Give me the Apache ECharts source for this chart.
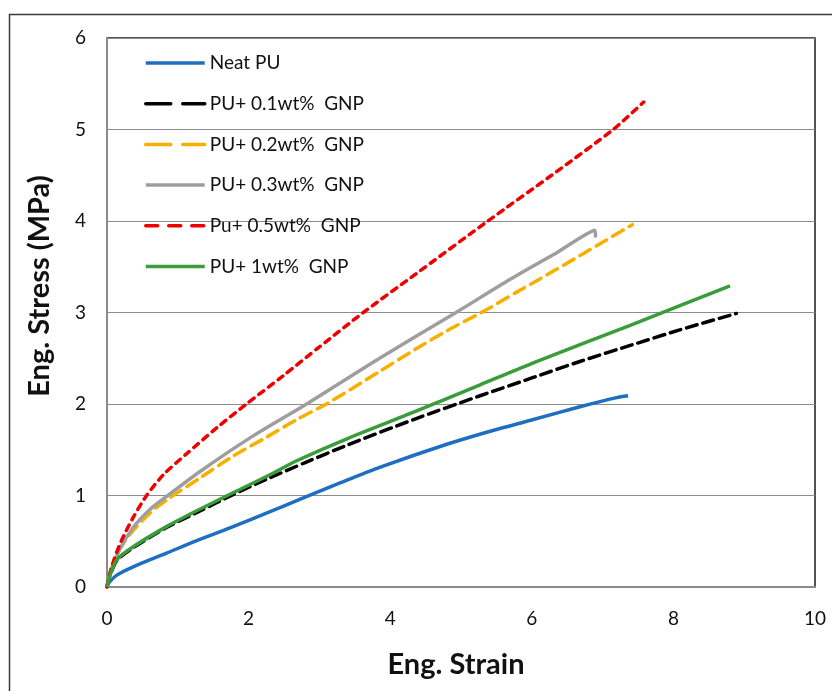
<!DOCTYPE html>
<html>
<head>
<meta charset="utf-8">
<script src="https://cdn.jsdelivr.net/npm/echarts@6/dist/echarts.min.js"></script>
<style>
  html, body { margin: 0; padding: 0; background: #fff; }
  #chart { width: 832px; height: 691px; }
</style>
</head>
<body>
<div id="chart"></div>
<script>
// Engineering stress–strain curves of PU / GNP composites
const seriesNames = ['Neat PU', 'PU+ 0.1wt%  GNP', 'PU+ 0.2wt%  GNP', 'PU+ 0.3wt%  GNP', 'Pu+ 0.5wt%  GNP', 'PU+ 1wt%  GNP'];

// [strain, stress (MPa)]
const neatPU = [[0,0],[0.02,0.04],[0.14,0.13],[0.37,0.22],[0.84,0.37],[1.31,0.52],[1.78,0.66],[2.26,0.81],[2.73,0.96],[3.3,1.14],[3.86,1.31],[4.8,1.56],[5.4,1.7],[5.97,1.82],[6.68,1.97],[7.2,2.07],[7.36,2.09]];
const gnp01 = [[0,0],[0.03,0.1],[0.14,0.29],[0.37,0.43],[0.84,0.65],[1.31,0.83],[1.78,1.01],[2.26,1.18],[2.8,1.36],[3.39,1.55],[4.33,1.83],[5.27,2.09],[6.02,2.29],[6.7,2.47],[7.39,2.64],[8.09,2.81],[8.89,2.99]];
const gnp02 = [[0,0],[0.04,0.15],[0.15,0.38],[0.35,0.6],[0.61,0.81],[0.84,0.95],[1.31,1.19],[1.78,1.43],[2.26,1.64],[2.68,1.83],[3.1,2.0],[3.86,2.36],[4.36,2.6],[4.8,2.8],[5.36,3.03],[5.78,3.22],[6.12,3.37],[6.72,3.64],[7.42,3.96]];
const gnp03 = [[0,0],[0.05,0.16],[0.18,0.41],[0.37,0.65],[0.61,0.85],[0.86,1.0],[1.31,1.26],[2.02,1.63],[2.82,2.0],[3.85,2.5],[4.93,3.0],[5.69,3.36],[6.3,3.63],[6.89,3.9],[6.9,3.82]];
const gnp05 = [[0,0],[0.03,0.12],[0.1,0.3],[0.2,0.5],[0.37,0.76],[0.56,1.0],[0.8,1.23],[1.13,1.46],[1.55,1.74],[1.97,2.0],[2.49,2.31],[3.01,2.63],[3.62,3.0],[4.36,3.42],[5.38,4.0],[6.28,4.5],[7.15,5.0],[7.58,5.3]];
const gnp1 = [[0,0],[0.03,0.1],[0.14,0.3],[0.37,0.44],[0.84,0.66],[1.31,0.85],[1.78,1.03],[2.26,1.21],[2.68,1.38],[3.39,1.62],[4.33,1.91],[5.27,2.21],[6.12,2.48],[7.39,2.86],[8.8,3.29]];

const xTicks = [0, 2, 4, 6, 8, 10];
const yTicks = [0, 1, 2, 3, 4, 5, 6];

const colors = ['#1F6FC1', '#000000', '#F7B000', '#9E9E9E', '#EE0000', '#3A9C3A'];
const dashes = ['solid', [11, 6], [12, 7], 'solid', [6, 6], 'solid'];
const legendDashes = ['solid', [25, 12], [25, 12], 'solid', [12, 11], 'solid'];
const allData = [neatPU, gnp01, gnp02, gnp03, gnp05, gnp1];

const font = 'Lato, "Open Sans", "Liberation Sans", sans-serif';

const chart = echarts.init(document.getElementById('chart'), null, { renderer: 'canvas' });

chart.setOption({
  animation: false,
  backgroundColor: '#fff',
  grid: {
    left: 107, right: 17, top: 38, bottom: 104,
    show: true, borderColor: '#1a1a1a', borderWidth: 1.5, backgroundColor: 'transparent'
  },
  xAxis: {
    type: 'value', min: xTicks[0], max: xTicks[xTicks.length - 1], interval: 2,
    axisLine: { show: true, onZero: false, lineStyle: { color: '#8a8a8a', width: 2 } },
    axisTick: { show: false },
    splitLine: { show: false },
    axisLabel: { margin: 22, fontSize: 19, color: '#111', fontFamily: font }
  },
  yAxis: {
    type: 'value', min: yTicks[0], max: yTicks[yTicks.length - 1], interval: 1,
    axisLine: { show: true, lineStyle: { color: '#8a8a8a', width: 2 } },
    axisTick: { show: false },
    splitLine: { show: true, lineStyle: { color: '#8c8c8c', width: 1.2 } },
    axisLabel: { margin: 21, fontSize: 19, color: '#111', fontFamily: font }
  },
  legend: {
    orient: 'vertical', left: 139, top: 48,
    itemWidth: 59, itemHeight: 20, itemGap: 20.7,
    textStyle: { fontSize: 19, color: '#111', fontFamily: font, lineHeight: 20 },
    data: seriesNames.map((n, i) => ({
      name: n,
      itemStyle: { color: 'rgba(0,0,0,0)', borderWidth: 0, opacity: 0 },
      lineStyle: { type: legendDashes[i], width: 3.5, color: colors[i] }
    }))
  },
  graphic: [
    { type: 'rect', shape: { x: 9.5, y: 14.5, width: 900, height: 900 },
      style: { fill: 'transparent', stroke: '#3a3a3a', lineWidth: 1.5 }, silent: true, z: -10 },
    { type: 'text', x: 40, y: 286, rotation: Math.PI / 2,
      style: { text: 'Eng. Stress (MPa)', font: 'bold 29px ' + font, fill: '#111',
               align: 'center', verticalAlign: 'middle' } },
    { type: 'text', x: 456, y: 665,
      style: { text: 'Eng. Strain', font: 'bold 29px ' + font, fill: '#111',
               align: 'center', verticalAlign: 'middle' } }
  ],
  series: allData.map((d, i) => ({
    name: seriesNames[i],
    type: 'line',
    data: d,
    symbol: 'none',
    smooth: 0.25,
    lineStyle: { color: colors[i], width: 3.5, type: dashes[i], cap: dashes[i] === 'solid' ? 'butt' : 'round' },
    itemStyle: { color: colors[i] }
  }))
});
</script>
</body>
</html>
